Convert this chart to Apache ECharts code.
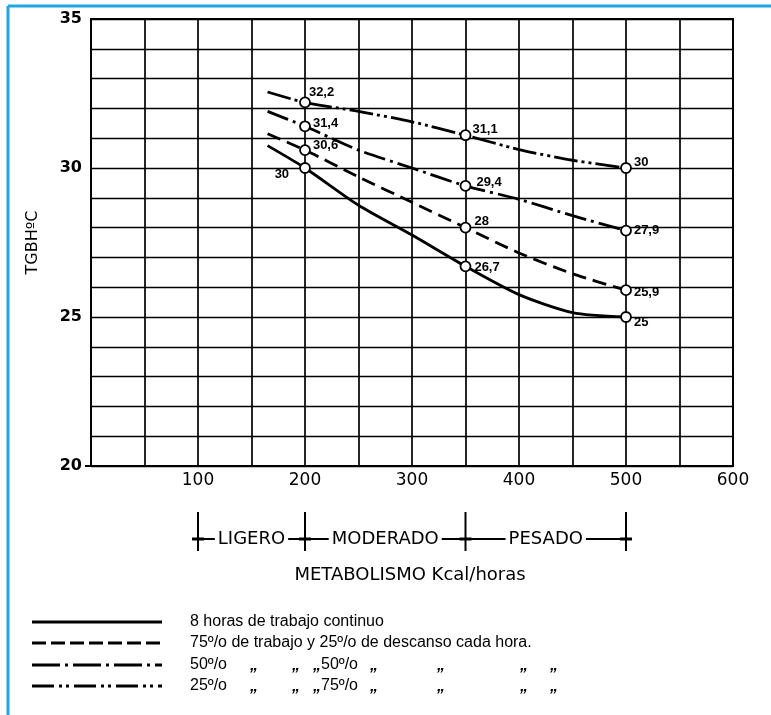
<!DOCTYPE html>
<html><head><meta charset="utf-8">
<script src="https://cdn.jsdelivr.net/npm/echarts@6/dist/echarts.min.js"></script>
<style>html,body{margin:0;padding:0;background:#fff}#c{width:771px;height:715px}</style>
</head><body><div id="c"></div>
<script>
// ---- data ----
const xValues = [165, 200, 250, 300, 350, 400, 450, 500];
const contY   = [30.75, 30.0, 28.75, 27.75, 26.7, 25.75, 25.15, 25.0];
const rest25Y = [31.15, 30.6, 29.7, 28.85, 28.0, 27.15, 26.45, 25.9];
const rest50Y = [31.9, 31.4, 30.6, 30.0, 29.4, 28.95, 28.4, 27.9];
const rest75Y = [32.55, 32.2, 31.9, 31.55, 31.1, 30.62, 30.26, 30.0];
const markedX = [200, 350, 500];
const xTicks = [100, 200, 300, 400, 500, 600];
const yTicks = [20, 25, 30, 35];
const classBounds = [100, 200, 350, 500];
const classNames = ['LIGERO', 'MODERADO', 'PESADO'];
const legendTexts = [
  '8 horas de trabajo continuo',
  '75º/o de trabajo y 25º/o de descanso cada hora.',
  '50º/o', '25º/o'
];
const dittoSecond = ['50º/o', '75º/o'];
const axisXName = 'METABOLISMO Kcal/horas';
const axisYName = 'TGBHºC';

// ---- style ----
const FONT = 'Liberation Sans, Arial, sans-serif';
const WFONT = 'DejaVu Sans, sans-serif';
const dashes = {
  cont: 'solid',
  r25: [14, 7],
  r50: [22, 5, 3, 5],
  r75: [24, 4, 3, 4, 3, 4]
};
// label placement (position, offset) for points at 200, 350, 500
const labelPlace = {
  r75: [['right', [-7, -10]], ['right', [-4, -6]], ['right', [-3, -6]]],
  r50: [['right', [-3, -3]], ['right', [0, -3]], ['right', [-3, 0]]],
  r25: [['right', [-3, -5]], ['right', [-2, -6]], ['right', [-3, 2]]],
  cont: [['left', [-5, 6]], ['right', [-2, 1]], ['right', [-3, 5]]]
};

function build(name, key, ys) {
  return {
    type: 'line', name: name, smooth: 0.25, z: 5,
    lineStyle: { color: '#000', width: 2.8, type: dashes[key] },
    itemStyle: { color: '#fff', borderColor: '#000', borderWidth: 1.8 },
    emphasis: { disabled: true },
    data: xValues.map((x, i) => {
      const k = markedX.indexOf(x);
      const item = { value: [x, ys[i]] };
      if (k >= 0) {
        const lp = labelPlace[key][k];
        item.symbol = 'circle';
        item.symbolSize = 10;
        item.label = {
          show: true, position: lp[0], offset: lp[1], distance: 5,
          formatter: String(ys[i]).replace('.', ','),
          color: '#000', fontSize: 13, fontWeight: 'bold', fontFamily: FONT
        };
      } else {
        item.symbol = 'none';
      }
      return item;
    })
  };
}

const chart = echarts.init(document.getElementById('c'), null, { renderer: 'canvas' });
chart.setOption({
  animation: false,
  backgroundColor: '#fff',
  grid: { left: 91, top: 19, right: 38, bottom: 249, show: true, borderColor: '#000', borderWidth: 2 },
  xAxis: {
    type: 'value', min: 0, max: 600, interval: 50,
    axisLine: { show: true, lineStyle: { color: '#000', width: 2 } },
    axisTick: { show: false },
    splitLine: { show: true, lineStyle: { color: '#000', width: 1.7 } },
    axisLabel: {
      formatter: v => xTicks.includes(v) ? String(v) : '',
      color: '#000', fontSize: 17, fontFamily: WFONT, margin: 6
    }
  },
  yAxis: {
    type: 'value', min: 20, max: 35, interval: 1,
    name: axisYName, nameLocation: 'middle', nameRotate: 90, nameGap: 50,
    nameTextStyle: { color: '#000', fontSize: 16, fontFamily: WFONT },
    axisLine: { show: true, lineStyle: { color: '#000', width: 2 } },
    axisTick: { show: false },
    splitLine: { show: true, lineStyle: { color: '#000', width: 1.3 } },
    axisLabel: {
      formatter: v => yTicks.includes(v) ? String(v) : '',
      color: '#000', fontSize: 16, fontWeight: 'bold', fontFamily: WFONT, margin: 9
    }
  },
  series: [
    build(legendTexts[0], 'cont', contY),
    build(legendTexts[1], 'r25', rest25Y),
    build(legendTexts[2], 'r50', rest50Y),
    build(legendTexts[3], 'r75', rest75Y)
  ]
});

// ---- annotations ----
const px = classBounds.map(v => chart.convertToPixel({ xAxisIndex: 0 }, v));
const g = [];
const blue = '#22a6e3';
g.push({ type: 'line', shape: { x1: 8, y1: 6, x2: 771, y2: 6 }, style: { stroke: blue, lineWidth: 3 }, z: 50 });
g.push({ type: 'line', shape: { x1: 8, y1: 6, x2: 8, y2: 715 }, style: { stroke: blue, lineWidth: 3 }, z: 50 });
// small tick left of the y axis at 20
const y20 = chart.convertToPixel({ yAxisIndex: 0 }, 20);
g.push({ type: 'line', shape: { x1: 85, y1: y20, x2: 91, y2: y20 }, style: { stroke: '#000', lineWidth: 2 }, z: 10 });

const bTop = 512, bBot = 551, bY = 539;
g.push({ type: 'line', shape: { x1: px[0], y1: bY, x2: px[px.length - 1], y2: bY }, style: { stroke: '#000', lineWidth: 1.8 }, z: 10 });
px.forEach(p => {
  g.push({ type: 'line', shape: { x1: p, y1: bTop, x2: p, y2: bBot }, style: { stroke: '#000', lineWidth: 2 }, z: 10 });
  g.push({ type: 'line', shape: { x1: p - 6, y1: bY, x2: p + 6, y2: bY }, style: { stroke: '#000', lineWidth: 3 }, z: 11 });
});
classNames.forEach((n, i) => {
  g.push({
    type: 'text', x: (px[i] + px[i + 1]) / 2, y: bY, z: 12,
    style: { text: n, fill: '#000', font: '18px ' + WFONT, align: 'center', verticalAlign: 'middle',
             backgroundColor: '#fff', padding: [0, 3] }
  });
});
const gx0 = chart.convertToPixel({ xAxisIndex: 0 }, 0), gx1 = chart.convertToPixel({ xAxisIndex: 0 }, 600);
g.push({ type: 'text', x: (gx0 + gx1) / 2 - 2, y: 575, z: 12,
  style: { text: axisXName, fill: '#000', font: '18px ' + WFONT, align: 'center', verticalAlign: 'middle' } });

// legend
const legY = [622, 643, 665, 686];
const legDash = [null, [14, 5], [28, 5, 3, 5], [22, 5, 3, 4, 3, 5]];
legY.forEach((y, i) => {
  const st = { stroke: '#000', lineWidth: 2.8 };
  if (legDash[i]) st.lineDash = legDash[i];
  g.push({ type: 'line', shape: { x1: 32, y1: y, x2: 162, y2: y }, style: st, z: 10 });
});
const LF = '16px ' + FONT;
g.push({ type: 'text', x: 190, y: legY[0], style: { text: legendTexts[0], fill: '#000', font: LF, verticalAlign: 'middle' } });
g.push({ type: 'text', x: 190, y: legY[1], style: { text: legendTexts[1], fill: '#000', font: LF, verticalAlign: 'middle' } });
const dittoX = [250, 292, 313, 370, 437, 520, 550];
[0, 1].forEach(k => {
  const y = legY[2 + k];
  g.push({ type: 'text', x: 190, y: y, style: { text: legendTexts[2 + k], fill: '#000', font: LF, verticalAlign: 'middle' } });
  g.push({ type: 'text', x: 321, y: y, style: { text: dittoSecond[k], fill: '#000', font: LF, verticalAlign: 'middle' } });
  dittoX.forEach(dx => {
    g.push({ type: 'text', x: dx, y: y + 1, style: { text: '„', fill: '#000', font: 'italic bold 16px ' + FONT, verticalAlign: 'middle' } });
  });
});
chart.setOption({ graphic: g });
</script>
</body></html>
